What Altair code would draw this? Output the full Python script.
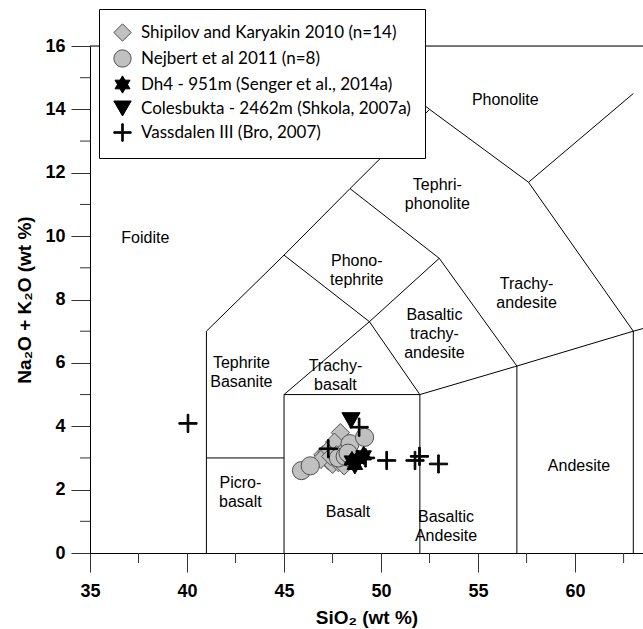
import altair as alt
import pandas as pd

# ---------------- data ----------------
series_names = [
    "Shipilov and Karyakin 2010 (n=14)",
    "Nejbert et al 2011 (n=8)",
    "Dh4 - 951m (Senger et al., 2014a)",
    "Colesbukta - 2462m (Shkola, 2007a)",
    "Vassdalen III (Bro, 2007)",
]

shipilov_sio2 = [47.9, 47.6, 47.0, 47.3, 47.5, 47.8, 48.0, 47.2, 46.9, 48.2, 47.7, 48.1, 48.3, 47.4]
shipilov_alk = [3.8, 3.5, 3.1, 2.9, 2.8, 2.85, 2.9, 3.2, 2.95, 3.3, 3.1, 2.75, 3.0, 3.05]

nejbert_sio2 = [45.9, 46.35, 47.8, 48.15, 48.4, 49.15, 48.55, 48.3]
nejbert_alk = [2.6, 2.75, 3.0, 3.05, 3.45, 3.65, 2.95, 3.15]

dh4_sio2 = [48.5, 48.8, 49.1, 48.65]
dh4_alk = [2.92, 2.97, 3.08, 2.78]

coles_sio2 = [48.45]
coles_alk = [4.18]

vass_sio2 = [40.05, 48.87, 47.28, 49.2, 50.29, 51.75, 51.98, 52.96]
vass_alk = [4.09, 3.97, 3.29, 3.0, 2.92, 2.92, 3.05, 2.81]

# TAS field boundaries (x1, y1, x2, y2)
seg_x1 = [41, 41, 45, 45, 52, 52, 57, 57, 63, 63, 41, 45, 45, 49.4, 49.4, 53, 57.6, 45, 48.4, 48.4, 52.5, 57.6, 52.5]
seg_y1 = [0, 3, 0, 5, 0, 5, 0, 5.9, 0, 7, 7, 9.4, 5, 7.3, 7.3, 9.3, 11.7, 9.4, 11.5, 11.5, 14, 11.7, 14]
seg_x2 = [41, 45, 45, 52, 52, 57, 57, 63, 63, 69, 45, 49.4, 49.4, 52, 53, 57, 63, 48.4, 53, 52.5, 57.6, 63, 48.4]
seg_y2 = [7, 3, 5, 5, 5, 5.9, 5.9, 7, 7, 8, 9.4, 7.3, 7.3, 5, 9.3, 5.9, 7, 11.5, 9.3, 14, 11.7, 14.5, 16]

field_names = ["Foidite", "Phonolite", "Tephri-\nphonolite", "Phono-\ntephrite", "Trachy-\nandesite",
               "Basaltic\ntrachy-\nandesite", "Trachy-\nbasalt", "Tephrite\nBasanite", "Picro-\nbasalt",
               "Basalt", "Basaltic\nAndesite", "Andesite"]
field_x = [37.85, 56.4, 52.9, 48.75, 57.5, 52.75, 47.65, 42.8, 42.75, 48.3, 53.35, 60.2]
field_y = [9.95, 14.3, 11.6, 9.2, 8.5, 7.5, 5.9, 6.0, 2.2, 1.3, 1.15, 2.75]

x_major = [35, 40, 45, 50, 55, 60]
x_minor = [37.5, 42.5, 47.5, 52.5, 57.5, 62.5]
y_major = [0, 2, 4, 6, 8, 10, 12, 14, 16]
y_minor = [1, 3, 5, 7, 9, 11, 13, 15]

# ---------------- tables ----------------
rows = []
for name, xs_, ys_ in zip(series_names,
                          [shipilov_sio2, nejbert_sio2, dh4_sio2, coles_sio2, vass_sio2],
                          [shipilov_alk, nejbert_alk, dh4_alk, coles_alk, vass_alk]):
    for a, b in zip(xs_, ys_):
        rows.append({"series": name, "sio2": a, "alk": b, "ord": series_names.index(name)})
pts = pd.DataFrame(rows)
segs = pd.DataFrame({"x1": seg_x1, "y1": seg_y1, "x2": seg_x2, "y2": seg_y2})
fields = pd.DataFrame({"name": field_names, "x": field_x, "y": field_y})
xminor_df = pd.DataFrame({"v": x_minor})
yminor_df = pd.DataFrame({"v": y_minor})

FONT = "Liberation Sans, Arial, Helvetica, sans-serif"
XDOM = [35, 63.5]
YDOM = [0, 16]
xs = alt.Scale(domain=XDOM, nice=False, zero=False)
ys = alt.Scale(domain=YDOM, nice=False)

hexagram = "M0,-1L0.866,0.5L-0.866,0.5Z M0,1L-0.866,-0.5L0.866,-0.5Z"
plus = "M-1,-0.09H-0.09V-1H0.09V-0.09H1V0.09H0.09V1H-0.09V0.09H-1Z"

x_axis = alt.Axis(values=x_major, tickSize=19, tickColor="#333", domainColor="black",
                  labelFont=FONT, labelFontWeight="bold", labelFontSize=18,
                  labelColor="black", labelPadding=10, labelFlush=False, grid=False,
                  title="SiO₂ (wt %)", titleFont=FONT, titleFontSize=19,
                  titleFontWeight="bold", titleColor="black", titlePadding=8)
y_axis = alt.Axis(values=y_major, tickSize=19, tickColor="#333", domainColor="black",
                  labelFont=FONT, labelFontWeight="bold", labelFontSize=18,
                  labelColor="black", labelPadding=6, labelFlush=False, grid=False,
                  title="Na₂O + K₂O (wt %)", titleFont=FONT, titleFontSize=19,
                  titleFontWeight="bold", titleColor="black", titlePadding=10)

lines = alt.Chart(segs).mark_rule(color="black", strokeWidth=1, clip=True).encode(
    x=alt.X("x1:Q", scale=xs, axis=x_axis),
    y=alt.Y("y1:Q", scale=ys, axis=y_axis),
    x2="x2:Q",
    y2="y2:Q",
)

top = alt.Chart(pd.DataFrame({"v": [16]})).mark_rule(color="black", strokeWidth=1).encode(
    y=alt.Y("v:Q", scale=ys),
)

xminor = alt.Chart(xminor_df).mark_rule(color="#333", strokeWidth=1).encode(
    x=alt.X("v:Q", scale=xs),
    y=alt.value(507),
    y2=alt.value(517),
)
yminor = alt.Chart(yminor_df).mark_rule(color="#333", strokeWidth=1).encode(
    y=alt.Y("v:Q", scale=ys),
    x=alt.value(0),
    x2=alt.value(-10),
)

labels = alt.Chart(fields).mark_text(font="Liberation Sans", fontSize=16, color="black",
                                     lineBreak="\n", lineHeight=19, align="center",
                                     baseline="middle").encode(
    x=alt.X("x:Q", scale=xs),
    y=alt.Y("y:Q", scale=ys),
    text="name:N",
)

legend = alt.Legend(orient="none", legendX=9, legendY=-37, title=None,
                    strokeColor="black", fillColor="white", padding=14,
                    rowPadding=3, labelFont="Lato", labelFontSize=17, labelColor="black",
                    labelOffset=9, symbolSize=300, symbolStrokeWidth=1, labelLimit=400)

points = alt.Chart(pts).mark_point(filled=True, opacity=1, size=330, strokeWidth=1,
                                   strokeOpacity=1, fillOpacity=1).encode(
    x=alt.X("sio2:Q", scale=xs),
    y=alt.Y("alk:Q", scale=ys),
    shape=alt.Shape("series:N", scale=alt.Scale(domain=series_names,
                    range=["diamond", "circle", hexagram, "triangle-down", plus]), legend=legend),
    fill=alt.Fill("series:N", scale=alt.Scale(domain=series_names,
                  range=["#c0c0c0", "#c0c0c0", "black", "black", "black"]), legend=legend),
    stroke=alt.Stroke("series:N", scale=alt.Scale(domain=series_names,
                      range=["#505050", "#505050", "black", "black", "black"]), legend=legend),
    order=alt.Order("ord:Q"),
)

chart = alt.layer(lines, top, xminor, yminor, labels, points).properties(
    width=553, height=507,
    padding={"left": 90, "top": 46, "right": 0, "bottom": 76},
    autosize=alt.AutoSizeParams(type="none"),
).configure_view(stroke=None).configure(background="white")

chart.save("out.html", embed_options={"renderer": "svg", "actions": False})
